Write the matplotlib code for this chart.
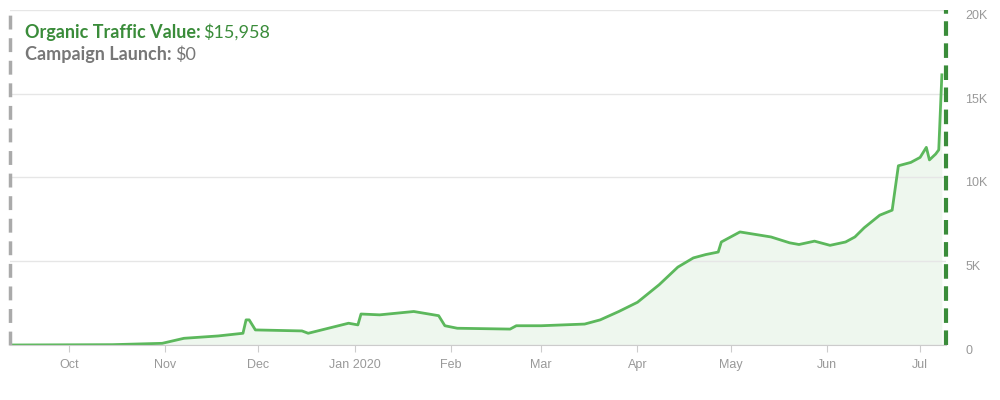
import matplotlib.pyplot as plt
import pandas as pd
from matplotlib.ticker import FuncFormatter

dates = ['2019-09-12', '2019-10-15', '2019-10-31', '2019-11-07', '2019-11-18', '2019-11-26',
         '2019-11-27', '2019-11-28', '2019-11-30', '2019-12-15', '2019-12-17', '2019-12-30',
         '2020-01-02', '2020-01-03', '2020-01-09', '2020-01-20', '2020-01-28', '2020-01-30',
         '2020-02-03', '2020-02-20', '2020-02-22', '2020-03-01', '2020-03-15', '2020-03-20',
         '2020-03-26', '2020-04-01', '2020-04-08', '2020-04-14', '2020-04-19', '2020-04-23',
         '2020-04-27', '2020-04-28', '2020-05-04', '2020-05-14', '2020-05-20', '2020-05-23',
         '2020-05-28', '2020-06-02', '2020-06-07', '2020-06-10', '2020-06-13', '2020-06-18',
         '2020-06-22', '2020-06-24', '2020-06-28', '2020-07-01', '2020-07-03', '2020-07-04',
         '2020-07-06', '2020-07-07', '2020-07-08']
values = [0, 20, 100, 400, 540, 700,
          1500, 1500, 900, 840, 700, 1300,
          1200, 1850, 1800, 2000, 1750, 1150,
          1000, 950, 1150, 1150, 1250, 1500,
          2000, 2550, 3600, 4650, 5200, 5400,
          5550, 6150, 6750, 6450, 6100, 6000,
          6200, 5950, 6150, 6450, 7000, 7750,
          8050, 10700, 10900, 11200, 11800, 11050,
          11400, 11650, 16130]

month_ticks = ['2019-10-01', '2019-11-01', '2019-12-01', '2020-01-01', '2020-02-01', '2020-03-01',
               '2020-04-01', '2020-05-01', '2020-06-01', '2020-07-01']
month_labels = ['Oct', 'Nov', 'Dec', 'Jan 2020', 'Feb', 'Mar', 'Apr', 'May', 'Jun', 'Jul']

x = pd.to_datetime(dates)
green = '#5cb85c'

fig = plt.figure(figsize=(10, 4), dpi=100)
ax = fig.add_axes([0.01, 0.1375, 0.936, 0.8375])
ax.plot(x, values, color=green, lw=2)
ax.fill_between(x, values, color=green, alpha=0.1, lw=0)

xmin, xmax = pd.Timestamp('2019-09-12'), pd.Timestamp('2020-07-09 08:00')
ax.set_xlim(xmin, xmax)
ax.set_ylim(0, 20000)
ax.axvline(xmax, color='#3a8c3a', lw=3, ls=(0, (3.5, 1.8)), clip_on=False)
ax.axvline(xmin, color='#aaaaaa', lw=2.5, ls=(0, (4, 2.5)), clip_on=False)

ax.set_xticks(pd.to_datetime(month_ticks))
ax.set_xticklabels(month_labels, family='Liberation Sans')
ax.yaxis.tick_right()
ax.set_yticks([0, 5000, 10000, 15000, 20000])
ax.yaxis.set_major_formatter(FuncFormatter(lambda v, p: '0' if v == 0 else f'{int(v/1000)}K'))
ax.tick_params(axis='y', length=0, pad=14, labelsize=9, labelcolor='#999999')
ax.tick_params(axis='x', length=5, color='#cccccc', labelsize=9, labelcolor='#999999', pad=5)
for lbl in ax.get_yticklabels():
    lbl.set_verticalalignment('top')
    lbl.set_family('Liberation Sans')
ax.grid(axis='y', color='#e6e6e6', lw=1)
for s in ['top', 'left', 'right']:
    ax.spines[s].set_visible(False)
ax.spines['bottom'].set_color('#cccccc')

fig.text(0.025, 0.905, 'Organic Traffic Value:', color='#3a8c3a', fontsize=13, fontweight='bold', family='Lato')
fig.text(0.203, 0.905, '$15,958', color='#3a8c3a', fontsize=13, family='Lato')
fig.text(0.025, 0.85, 'Campaign Launch:', color='#777777', fontsize=13, fontweight='bold', family='Lato')
fig.text(0.175, 0.85, '$0', color='#777777', fontsize=13, family='Lato')

fig.savefig('out.png')
